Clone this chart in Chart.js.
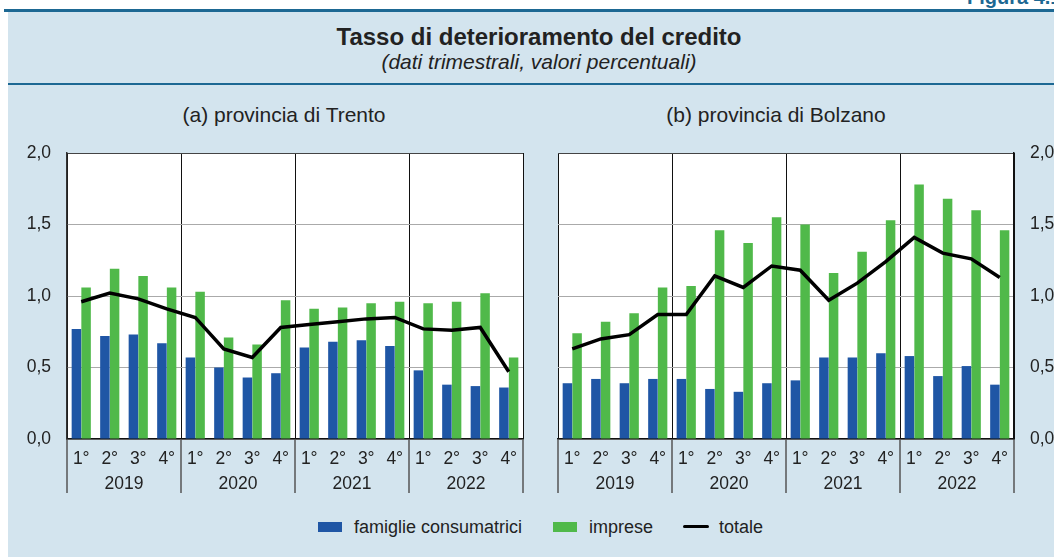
<!DOCTYPE html>
<html>
<head>
<meta charset="utf-8">
<script src="https://cdn.jsdelivr.net/npm/chart.js@4.4.1/dist/chart.umd.min.js"></script>
<style>
  body { margin: 0; width: 1054px; height: 557px; overflow: hidden; background: #fff; position: relative;
         font-family: "Liberation Sans", Arial, sans-serif; color: #222; }
  #bg { position: absolute; left: 8px; top: 11px; width: 1046px; height: 546px; background: #d3e4ee; }
  #topline { position: absolute; left: 4px; top: 9px; width: 1050px; height: 3px; background: #1d6893; }
  #midline { position: absolute; left: 8px; top: 83px; width: 1046px; height: 2px; background: #1d6893; }
  #fig { position: absolute; left: 967px; top: -14px; font-size: 20px; font-weight: bold; color: #1d6893; white-space: nowrap; }
  .title { position: absolute; left: 0; width: 1078px; text-align: center; white-space: nowrap; }
  #t1 { top: 23px; font-size: 24px; font-weight: bold; }
  #t2 { top: 50px; font-size: 21px; font-style: italic; }
  .panel { position: absolute; top: 103px; font-size: 21px; white-space: nowrap; transform: translateX(-50%); }
  canvas { position: absolute; top: 100px; }
  #legend { position: absolute; top: 516px; left: 0; width: 1054px; height: 22px; font-size: 18px; }
  .sw { position: absolute; }
  .lt { position: absolute; top: 0; line-height: 22px; }
</style>
</head>
<body>
<div id="bg"></div>
<div id="topline"></div>
<div id="fig">Figura 4.1</div>
<div class="title" id="t1">Tasso di deterioramento del credito</div>
<div class="title" id="t2">(dati trimestrali, valori percentuali)</div>
<div id="midline"></div>
<div class="panel" style="left:284px">(a) provincia di Trento</div>
<div class="panel" style="left:776px">(b) provincia di Bolzano</div>
<canvas id="trento" width="540" height="400" style="left:0"></canvas>
<canvas id="bolzano" width="514" height="400" style="left:540px"></canvas>
<div id="legend">
  <div class="sw" style="left:318px;top:6px;width:24px;height:10px;background:#1f56a5"></div>
  <div class="lt" style="left:354px">famiglie consumatrici</div>
  <div class="sw" style="left:553px;top:6px;width:24px;height:10px;background:#50b94a"></div>
  <div class="lt" style="left:589px">imprese</div>
  <div class="sw" style="left:683px;top:9px;width:26px;height:3px;background:#000;border-radius:2px"></div>
  <div class="lt" style="left:719px">totale</div>
</div>
<script>
const quarters = ['1°', '2°', '3°', '4°'];
const years = ['2019', '2020', '2021', '2022'];

// provincia di Trento
const trentoFamiglie = [0.77, 0.72, 0.73, 0.67, 0.57, 0.50, 0.43, 0.46, 0.64, 0.68, 0.69, 0.65, 0.48, 0.38, 0.37, 0.36];
const trentoImprese = [1.06, 1.19, 1.14, 1.06, 1.03, 0.71, 0.66, 0.97, 0.91, 0.92, 0.95, 0.96, 0.95, 0.96, 1.02, 0.57];
const trentoTotale = [0.96, 1.02, 0.98, 0.91, 0.85, 0.63, 0.57, 0.78, 0.80, 0.82, 0.84, 0.85, 0.77, 0.76, 0.78, 0.47];

// provincia di Bolzano
const bolzanoFamiglie = [0.39, 0.42, 0.39, 0.42, 0.42, 0.35, 0.33, 0.39, 0.41, 0.57, 0.57, 0.60, 0.58, 0.44, 0.51, 0.38];
const bolzanoImprese = [0.74, 0.82, 0.88, 1.06, 1.07, 1.46, 1.37, 1.55, 1.50, 1.16, 1.31, 1.53, 1.78, 1.68, 1.60, 1.46];
const bolzanoTotale = [0.63, 0.70, 0.73, 0.87, 0.87, 1.14, 1.06, 1.21, 1.18, 0.97, 1.09, 1.24, 1.41, 1.30, 1.26, 1.13];

const labels = years.flatMap(y => quarters.map(q => y + ' ' + q));
const FONT = '"Liberation Sans", Arial, sans-serif';

Chart.defaults.font.family = FONT;
Chart.defaults.font.size = 17.5;
Chart.defaults.color = '#222';

// white plot area, year labels and the separators under the axis
const yearAxis = {
  id: 'yearAxis',
  beforeDraw(chart) {
    const { ctx, chartArea: a } = chart;
    ctx.save();
    ctx.fillStyle = '#fff';
    ctx.fillRect(a.left, a.top, a.right - a.left, a.bottom - a.top);
    ctx.restore();
  },
  afterDraw(chart) {
    const { ctx, chartArea: a, scales: { x } } = chart;
    const step = x.getPixelForValue(1) - x.getPixelForValue(0);
    ctx.save();
    ctx.font = '17.5px ' + FONT;
    ctx.fillStyle = '#222';
    ctx.textAlign = 'center';
    ctx.textBaseline = 'middle';
    years.forEach((yr, i) => {
      const left = x.getPixelForValue(i * 4) - step / 2;
      const right = x.getPixelForValue(i * 4 + 3) + step / 2;
      ctx.fillText(yr, (left + right) / 2, a.bottom + 45);
    });
    ctx.strokeStyle = '#555';
    ctx.lineWidth = 1.5;
    for (let i = 0; i <= years.length; i++) {
      const px = x.getPixelForValue(i * 4) - step / 2;
      ctx.beginPath();
      ctx.moveTo(px, a.bottom);
      ctx.lineTo(px, a.bottom + 54);
      ctx.stroke();
    }
    ctx.restore();
  }
};

function makeChart(id, famiglie, imprese, totale, side) {
  return new Chart(document.getElementById(id), {
    type: 'bar',
    data: {
      labels: labels,
      datasets: [
        { type: 'line', label: 'totale', data: totale, borderColor: '#000', borderWidth: 3.5,
          pointRadius: 0, tension: 0, order: 0 },
        { label: 'famiglie consumatrici', data: famiglie, backgroundColor: '#1f56a5', order: 1,
          barPercentage: 0.98, categoryPercentage: 0.68 },
        { label: 'imprese', data: imprese, backgroundColor: '#50b94a', order: 1,
          barPercentage: 0.98, categoryPercentage: 0.68 }
      ]
    },
    options: {
      responsive: false,
      animation: false,
      devicePixelRatio: 1,
      layout: { padding: side === 'left' ? { top: 53, right: 17 } : { top: 53, left: 18 } },
      plugins: { legend: { display: false }, tooltip: { enabled: false } },
      scales: {
        x: {
          offset: true,
          grid: {
            offset: true,
            drawTicks: false,
            lineWidth: 1,
            color: c => (c.index === undefined || c.index % 4 === 0) ? '#111' : 'rgba(0,0,0,0)'
          },
          border: { color: '#111', width: 1.5 },
          ticks: { padding: 10, maxRotation: 0, autoSkip: false, callback: (v, i) => quarters[i % 4] },
          afterFit: s => { s.height = 61; }
        },
        y: {
          position: side,
          min: 0, max: 2,
          grid: {
            drawTicks: false,
            lineWidth: 1,
            color: c => (c.tick && c.tick.value === 2) ? '#444' : '#aaa'
          },
          border: { color: side === 'left' ? '#333' : '#111', width: 1.5 },
          ticks: { stepSize: 0.5, padding: 16, callback: v => v.toFixed(1).replace('.', ',') },
          afterFit: s => { s.width = side === 'left' ? 67 : 40; }
        }
      }
    },
    plugins: [yearAxis]
  });
}

makeChart('trento', trentoFamiglie, trentoImprese, trentoTotale, 'left');
makeChart('bolzano', bolzanoFamiglie, bolzanoImprese, bolzanoTotale, 'right');
</script>
</body>
</html>
